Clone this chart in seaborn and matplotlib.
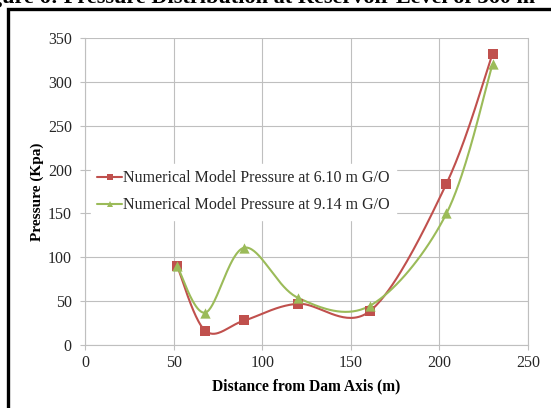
import numpy as np
import pandas as pd
import matplotlib
matplotlib.use("Agg")
import matplotlib.pyplot as plt
import seaborn as sns
from matplotlib.lines import Line2D
from matplotlib.patches import Rectangle

distance = [52, 68, 90, 120, 161, 204, 230]
pressure_610 = [90, 16, 28, 47, 39, 184, 332]
pressure_914 = [90, 37, 111, 54, 45, 150, 320]
series_names = ["Numerical Model Pressure at 6.10 m G/O",
                "Numerical Model Pressure at 9.14 m G/O"]
colors = ["#C0504D", "#9BBB59"]
markers = ["s", "^"]
x_ticks = [0, 50, 100, 150, 200, 250]
y_ticks = [0, 50, 100, 150, 200, 250, 300, 350]

sns.set_theme(style="whitegrid")
plt.rcParams["font.family"] = ["Liberation Serif", "DejaVu Serif"]


def smooth(x, y, n=40):
    """Excel-style smoothed line (Catmull-Rom Bezier, tension 1/6)."""
    p = np.column_stack([x, y]).astype(float)
    out = []
    for i in range(len(p) - 1):
        p0 = p[i - 1] if i > 0 else p[i]
        p1, p2 = p[i], p[i + 1]
        p3 = p[i + 2] if i + 2 < len(p) else p[i + 1]
        c1 = p1 + (p2 - p0) / 6.0
        c2 = p2 - (p3 - p1) / 6.0
        t = np.linspace(0, 1, n)[:, None]
        seg = ((1 - t) ** 3) * p1 + 3 * ((1 - t) ** 2) * t * c1 + 3 * (1 - t) * t ** 2 * c2 + t ** 3 * p2
        out.append(seg if i == 0 else seg[1:])
    s = np.vstack(out)
    return s[:, 0], s[:, 1]


fig = plt.figure(figsize=(5.51, 4.08), dpi=100)
ax = fig.add_axes([85 / 551, 1 - 345 / 408, 443 / 551, 307 / 408])
ax.set_facecolor("white")

rows = []
for name, vals in zip(series_names, [pressure_610, pressure_914]):
    sx, sy = smooth(distance, vals)
    rows.append(pd.DataFrame({"x": sx, "y": sy, "s": name}))
curve = pd.concat(rows)
pts = pd.concat([pd.DataFrame({"x": distance, "y": v, "s": n})
                 for n, v in zip(series_names, [pressure_610, pressure_914])])

sns.lineplot(data=curve, x="x", y="y", hue="s", palette=colors, sort=False,
             estimator=None, units="s", lw=1.5, ax=ax, legend=False)
for n, c, m in zip(series_names, colors, markers):
    d = pts[pts.s == n]
    sns.scatterplot(data=d, x="x", y="y", color=c, marker=m, s=45 if m == "s" else 55,
                    edgecolor=c, linewidth=0, ax=ax, legend=False, zorder=3)

ax.set_xlim(0, 250)
ax.set_ylim(0, 350)
ax.set_xticks(x_ticks)
ax.set_yticks(y_ticks)
ax.grid(True, color="#BFBFBF", lw=0.8)
ax.spines["top"].set_visible(False)
for sp in ["left", "bottom", "right"]:
    ax.spines[sp].set_color("#BFBFBF")
    ax.spines[sp].set_linewidth(0.8)
ax.tick_params(axis="both", which="both", length=3.5, color="#BFBFBF", width=0.8,
               labelsize=11.5, labelcolor="#262626", direction="out",
               bottom=True, left=True)
ax.tick_params(axis="y", pad=6)
ax.tick_params(axis="x", pad=4)
ax.set_xlabel("Distance from Dam Axis (m)", fontsize=11.2, fontweight="bold",
              color="black", labelpad=5)
ax.set_ylabel("Pressure (Kpa)", fontsize=11, fontweight="bold", color="black",
              labelpad=3)

handles = [Line2D([0], [0], color=c, lw=1.5, marker=m, markersize=5, markeredgewidth=0)
           for c, m in zip(colors, markers)]
leg = ax.legend(handles, series_names, loc="upper left",
                bbox_to_anchor=(0.0135, 0.59), borderaxespad=0,
                frameon=True, fancybox=False,
                facecolor="white", edgecolor="white", framealpha=1,
                fontsize=11.5, handlelength=1.55, handletextpad=0.08,
                labelspacing=0.7, borderpad=0.4)
for t in leg.get_texts():
    t.set_color("#262626")

fig.patches.append(Rectangle((8 / 551, -0.1), 1.2, 1 - 9 / 408 + 0.1,
                             transform=fig.transFigure, fill=False,
                             edgecolor="black", lw=2.4, zorder=10))
fig.text(-29 / 551, 1 - 3 / 408,
         "Figure 6: Pressure Distribution at Reservoir Level of 360 m",
         ha="left", va="baseline", fontsize=16, fontweight="bold", color="black")

fig.savefig("out.png", dpi=100)
